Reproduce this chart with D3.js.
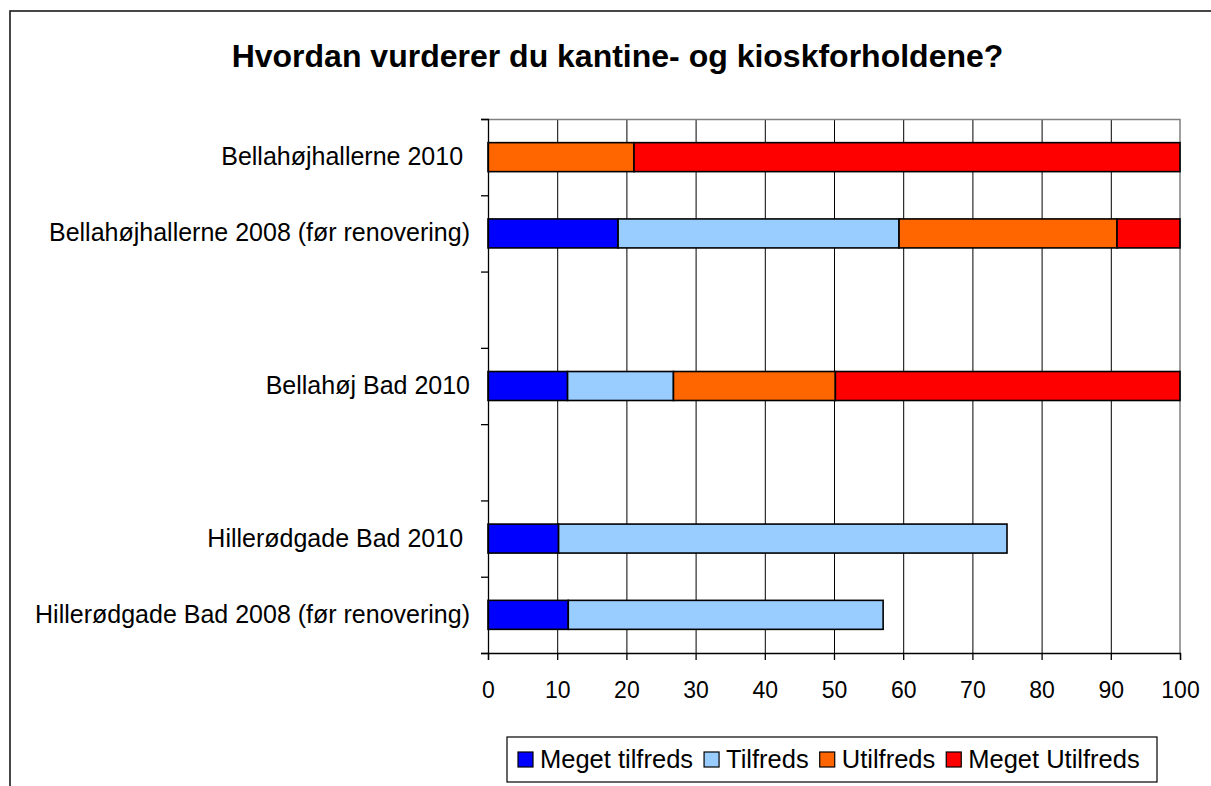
<!DOCTYPE html>
<html>
<head>
<meta charset="utf-8">
<script src="https://cdn.jsdelivr.net/npm/d3@7"></script>
<style>
  html, body { margin: 0; padding: 0; background: #fff; }
  svg { display: block; font-family: "Liberation Sans", Arial, sans-serif; }
  .ylab text { white-space: pre; }
</style>
</head>
<body>
<svg id="chart" width="1211" height="786"></svg>
<script>
// ---- data ----
const title = "Hvordan vurderer du kantine- og kioskforholdene?";
const categories = [
  "Bellahøjhallerne 2010 ",
  "Bellahøjhallerne 2008 (før renovering)",
  "",
  "Bellahøj Bad 2010",
  "",
  "Hillerødgade Bad 2010 ",
  "Hillerødgade Bad 2008 (før renovering)"
];
const seriesNames = ["Meget tilfreds", "Tilfreds", "Utilfreds", "Meget Utilfreds"];
const megetTilfreds  = [0,    18.8, 0, 11.5, 0, 10.2, 11.6];
const tilfreds       = [0,    40.6, 0, 15.3, 0, 64.8, 45.5];
const utilfreds      = [21.1, 31.5, 0, 23.4, 0, 0,    0];
const megetUtilfreds = [78.9, 9.1,  0, 49.8, 0, 0,    0];
const xTicks = [0, 10, 20, 30, 40, 50, 60, 70, 80, 90, 100];
const colors = ["#0000FF", "#99CCFF", "#FF6600", "#FF0000"];

// ---- layout ----
const svg = d3.select("#chart");
const plot = { left: 488, right: 1180, top: 119, bottom: 653 };
const W = plot.right - plot.left, H = plot.bottom - plot.top;

// outer frame
svg.append("rect").attr("x", 10).attr("y", 11).attr("width", 1240).attr("height", 820)
  .attr("fill", "#fff").attr("stroke", "#1a1a1a").attr("stroke-width", 1.6);

// title
svg.append("text").attr("x", 617.5).attr("y", 67).attr("text-anchor", "middle")
  .attr("font-size", 32).attr("font-weight", "bold").attr("fill", "#000").text(title);

const x = d3.scaleLinear().domain([0, 100]).range([0, W]);
const idx = d3.range(categories.length);
const y = d3.scaleBand().domain(idx).range([0, H]).paddingInner(0.62).paddingOuter(0.31);
const yEdge = d3.scaleLinear().domain([0, categories.length]).range([0, H]);

const g = svg.append("g").attr("transform", `translate(${plot.left},${plot.top})`);

// gridlines
g.append("g").attr("class", "grid")
  .call(d3.axisBottom(x).tickValues(xTicks.slice(1, -1)).tickSize(H).tickFormat(""))
  .call(s => s.select(".domain").remove())
  .call(s => s.selectAll("line").attr("stroke", "#000").attr("stroke-width", 1));

// plot frame top/right (grey)
g.append("path").attr("d", `M0,0.5H${W}V${H}`).attr("fill", "none")
  .attr("stroke", "#808080").attr("stroke-width", 1.5);

// stacked bars
const table = idx.map(i => ({
  i,
  "Meget tilfreds": megetTilfreds[i],
  "Tilfreds": tilfreds[i],
  "Utilfreds": utilfreds[i],
  "Meget Utilfreds": megetUtilfreds[i]
}));
const stack = d3.stack().keys(seriesNames)(table);
stack.forEach((layer, k) => {
  g.append("g").selectAll("rect")
    .data(layer.filter(d => d[1] - d[0] > 0))
    .join("rect")
    .attr("x", d => x(d[0]))
    .attr("width", d => x(d[1]) - x(d[0]))
    .attr("y", d => y(d.data.i))
    .attr("height", y.bandwidth())
    .attr("fill", colors[k])
    .attr("stroke", "#000")
    .attr("stroke-width", 1.6);
});

// y axis: boundary ticks
g.append("g")
  .call(d3.axisLeft(yEdge).tickValues(d3.range(categories.length + 1)).tickSize(7).tickFormat(""))
  .call(s => s.selectAll("path,line").attr("stroke", "#000").attr("stroke-width", 1.3));

// y axis: labels
g.append("g").attr("class", "ylab")
  .call(d3.axisLeft(y).tickSize(0).tickPadding(18).tickFormat(i => categories[i]))
  .call(s => s.select(".domain").remove())
  .call(s => s.selectAll("text").attr("font-size", 25).attr("fill", "#000")
    .attr("font-family", "'Liberation Sans', Arial, sans-serif"));

// x axis
g.append("g").attr("transform", `translate(0,${H})`)
  .call(d3.axisBottom(x).tickValues(xTicks).tickSize(7).tickPadding(22).tickFormat(d3.format("d")))
  .call(s => s.selectAll("path,line").attr("stroke", "#000").attr("stroke-width", 1.3))
  .call(s => s.selectAll("text").attr("font-size", 23).attr("fill", "#000")
    .attr("font-family", "'Liberation Sans', Arial, sans-serif"));

// legend
const leg = svg.append("g");
leg.append("rect").attr("x", 507).attr("y", 737).attr("width", 650).attr("height", 45)
  .attr("fill", "#fff").attr("stroke", "#000").attr("stroke-width", 1.2);
let cx = 518;
seriesNames.forEach((name, k) => {
  leg.append("rect").attr("x", cx).attr("y", 752).attr("width", 15).attr("height", 15)
    .attr("fill", colors[k]).attr("stroke", "#000").attr("stroke-width", 1.2);
  const t = leg.append("text").attr("x", cx + 22).attr("y", 768)
    .attr("font-size", 25.5).attr("fill", "#000").text(name);
  cx += 22 + t.node().getComputedTextLength() + 11;
});
</script>
</body>
</html>
